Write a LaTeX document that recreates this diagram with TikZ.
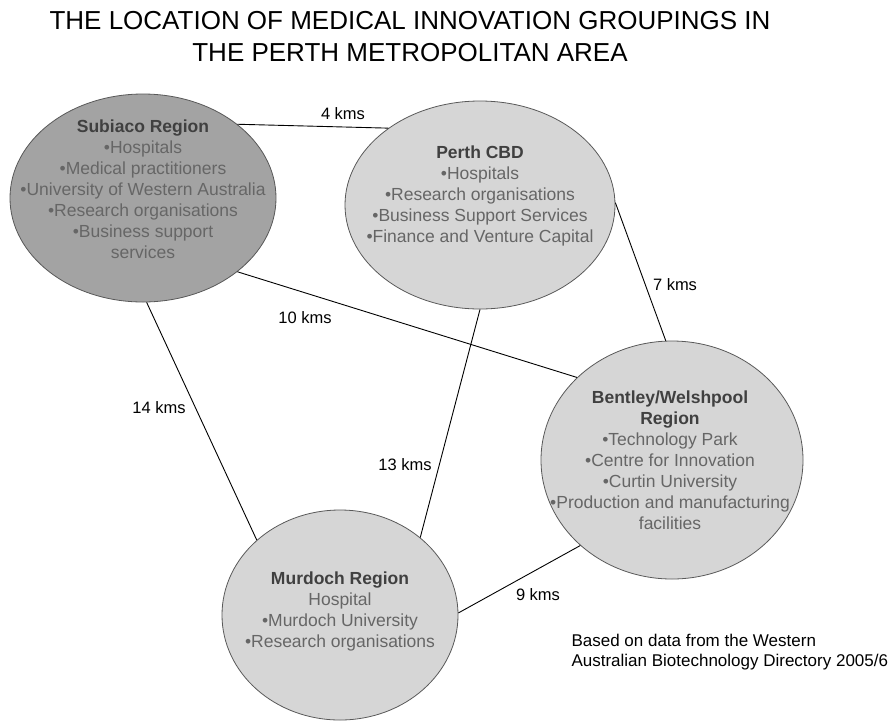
\documentclass[tikz,border=0pt]{standalone}
\usepackage{fontspec}
\setmainfont{Liberation Sans}
\usetikzlibrary{shapes.geometric}
\begin{document}
\begin{tikzpicture}[x=1pt,y=-1pt,
  region/.style={ellipse, draw=black!65, line width=0.8pt, inner sep=0pt},
  lightregion/.style={region, fill=black!16},
  darkregion/.style={region, fill=black!36},
  regtext/.style={align=center, text=black!60, font=\fontsize{17.5}{21}\selectfont},
  headtext/.style={text=black!75},
  dist/.style={font=\fontsize{16.5}{19}\selectfont, text=black},
  titletext/.style={font=\fontsize{26}{30}\selectfont, text=black},
  link/.style={draw=black, line width=0.9pt}]
\useasboundingbox (0,0) rectangle (896,721);
\fill[white] (0,0) rectangle (896,721);

% title
\node[titletext] (title1) at (410,21) {THE LOCATION OF MEDICAL INNOVATION GROUPINGS IN};
\node[titletext] (title2) at (410,53) {THE PERTH METROPOLITAN AREA};

% regions
\node[darkregion, minimum width=266pt, minimum height=208pt] (sub) at (143,198) {};
\node[lightregion, minimum width=270pt, minimum height=208pt] (cbd) at (480,205) {};
\node[lightregion, minimum width=262pt, minimum height=238pt] (bent) at (672,460) {};
\node[lightregion, minimum width=236pt, minimum height=210pt] (mur) at (340,615) {};

% region texts
\node[regtext] (subtxt) at (143,189) {\textcolor{black!75}{\textbf{Subiaco Region}}\\•Hospitals\\•Medical practitioners\\•University of Western Australia\\•Research organisations\\•Business support\\services};
\node[regtext] (cbdtxt) at (480,196) {\textcolor{black!75}{\textbf{Perth CBD}}\\•Hospitals\\•Research organisations\\•Business Support Services\\•Finance and Venture Capital};
\node[regtext] (benttxt) at (670,460) {\textcolor{black!75}{\textbf{Bentley/Welshpool}}\\\textcolor{black!75}{\textbf{Region}}\\•Technology Park\\•Centre for Innovation\\•Curtin University\\•Production and manufacturing\\facilities};
\node[regtext] (murtxt) at (340,611) {\textcolor{black!75}{\textbf{Murdoch Region}}\\Hospital\\•Murdoch University\\•Research organisations};

% connectors
\draw[link] (sub.38) -- (cbd.140);
\draw[link] (cbd.1) -- (bent.93);
\draw[link] (sub.-38) -- (bent.139);
\draw[link] (sub.-88) -- (mur.138);
\draw[link] (cbd.-90) -- (mur.44);
\draw[link] (bent.-137) -- (mur.1);

% distance labels
\node[dist] (d4) at (343,114) {4 kms};
\node[dist] (d7) at (675,285) {7 kms};
\node[dist] (d10) at (305,318) {10 kms};
\node[dist] (d14) at (159,408) {14 kms};
\node[dist] (d13) at (405,465) {13 kms};
\node[dist] (d9) at (538,595) {9 kms};

% source note
\node[anchor=west, align=left, font=\fontsize{17}{19.5}\selectfont] (src) at (568,652) {Based on data from the Western\\Australian Biotechnology Directory 2005/6};
\end{tikzpicture}
\end{document}
